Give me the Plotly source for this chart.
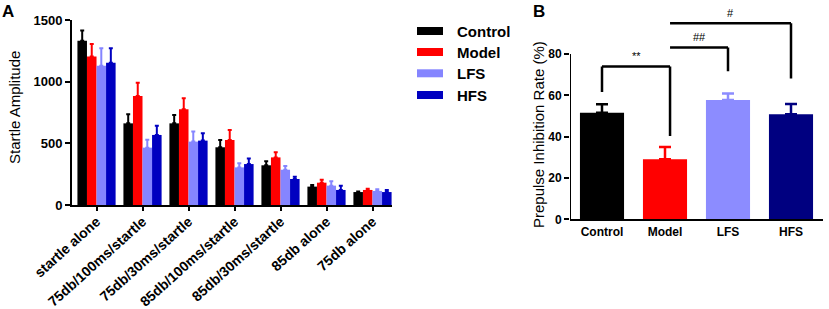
import plotly.graph_objects as go

# ---------------- data ----------------
categories = ["startle alone", "75db/100ms/startle", "75db/30ms/startle",
              "85db/100ms/startle", "85db/30ms/startle", "85db alone", "75db alone"]
series_names = ["Control", "Model", "LFS", "HFS"]
control = [1332, 662, 662, 468, 322, 149, 105]
control_err = [82, 73, 68, 59, 32, 13, 5]
model = [1205, 884, 776, 527, 386, 181, 122]
model_err = [100, 108, 89, 81, 41, 24, 10]
lfs = [1130, 465, 514, 305, 286, 157, 114]
lfs_err = [140, 65, 81, 33, 30, 35, 13]
hfs = [1154, 568, 522, 332, 211, 122, 105]
hfs_err = [116, 75, 59, 46, 19, 35, 17]

groups_b = ["Control", "Model", "LFS", "HFS"]
ppi = [51.6, 29.1, 57.7, 50.8]
ppi_err = [4.1, 5.9, 3.2, 5.0]

# significance brackets: (left x, right x, left leg bottom, right leg bottom, bar height, label)
brackets = [
    (0, 1.08, 61.6, 40.3, 73.9, "**"),
    (1.08, 2, 83.1, 71.6, 83.1, "##"),
    (1.08, 3, 94.9, 68.2, 94.9, "#"),
]

yticks_a = [0, 500, 1000, 1500]
yticks_b = [0, 20, 40, 60, 80]

colors_a = ["#000000", "#FF0000", "#8585FF", "#0000C0"]
colors_b = ["#000000", "#FF0000", "#8C8CFF", "#000080"]

FONT = "Liberation Sans, Arial, sans-serif"

fig = go.Figure()

vals = [control, model, lfs, hfs]
errs = [control_err, model_err, lfs_err, hfs_err]
for name, v, e, c in zip(series_names, vals, errs, colors_a):
    fig.add_trace(go.Bar(
        x=list(range(len(categories))), y=v, name=name, marker_color=c,
        marker_line_width=0, showlegend=False, offsetgroup=name,
        error_y=dict(type="data", symmetric=False, array=e,
                     arrayminus=[0] * len(e), color=c, thickness=2, width=2),
        xaxis="x", yaxis="y"))

for i, (g, v, e, c) in enumerate(zip(groups_b, ppi, ppi_err, colors_b)):
    fig.add_trace(go.Bar(
        x=[i], y=[v], marker_color=c, marker_line_width=0, showlegend=False, width=0.7,
        offsetgroup="B",
        error_y=dict(type="data", symmetric=False, array=[e], arrayminus=[0],
                     color=c, thickness=2.5, width=6),
        xaxis="x2", yaxis="y2"))

fig.update_layout(
    template="none",
    width=829, height=309,
    margin=dict(l=0, r=0, t=0, b=0, autoexpand=False),
    paper_bgcolor="white", plot_bgcolor="white",
    barmode="group", bargap=0.17, bargroupgap=0,
    font=dict(family=FONT, color="black"),
    hovermode=False,
    xaxis=dict(domain=[72 / 829, 392 / 829], range=[-0.533, 6.424], automargin=False,
               tickvals=list(range(len(categories))), ticktext=categories,
               tickangle=-42, tickfont=dict(size=14, family=FONT, weight="bold"),
               ticklabelstandoff=-3,
               showline=True, linewidth=2, linecolor="black",
               ticks="outside", ticklen=4, tickwidth=2, tickcolor="black",
               showgrid=False, zeroline=False, anchor="y"),
    yaxis=dict(domain=[1 - 205 / 309, 1 - 20 / 309], range=[0, 1500], automargin=False,
               tickvals=yticks_a, tickfont=dict(size=13, family=FONT, weight="bold"),
               showline=True, linewidth=2, linecolor="black",
               ticks="outside", ticklen=5, tickwidth=2, tickcolor="black",
               showgrid=False, zeroline=False, anchor="x"),
    xaxis2=dict(domain=[570 / 829, 823 / 829], range=[-0.508, 3.508], automargin=False,
                tickvals=list(range(len(groups_b))), ticktext=groups_b,
                tickfont=dict(size=12, family=FONT, weight="bold"),
                showline=True, linewidth=2, linecolor="black", ticks="",
                showgrid=False, zeroline=False, anchor="y2"),
    yaxis2=dict(domain=[1 - 219.3 / 309, 1 - 12.7 / 309], range=[0, 100], automargin=False,
                tickvals=yticks_b, tickfont=dict(size=12, family=FONT, weight="bold"),
                showline=False, ticks="outside", ticklen=5, tickwidth=2, tickcolor="black",
                showgrid=False, zeroline=False, anchor="x2"),
)

shapes = []
# y axis line of panel B (only up to 80)
shapes.append(dict(type="line", xref="x2", yref="y2", x0=-0.508, x1=-0.508,
                   y0=0, y1=max(yticks_b), line=dict(color="black", width=2)))
annotations = []
for (a, b, la, lb, top, lab) in brackets:
    shapes.append(dict(type="line", xref="x2", yref="y2", x0=a, x1=a, y0=la, y1=top,
                       line=dict(color="black", width=2.5)))
    shapes.append(dict(type="line", xref="x2", yref="y2", x0=b, x1=b, y0=lb, y1=top,
                       line=dict(color="black", width=2.5)))
    shapes.append(dict(type="line", xref="x2", yref="y2", x0=a, x1=b, y0=top, y1=top,
                       line=dict(color="black", width=2.5)))
    annotations.append(dict(xref="x2", yref="y2", x=(a + b) / 2, y=top + 1.2, text=lab,
                            showarrow=False, yanchor="bottom",
                            font=dict(size=11, family=FONT, color="black")))

# custom legend
leg_y = [31, 52, 73.3, 95]
for name, c, yy in zip(series_names, colors_a, leg_y):
    shapes.append(dict(type="rect", xref="paper", yref="paper",
                       x0=417 / 829, x1=443 / 829,
                       y0=1 - (yy + 4) / 309, y1=1 - (yy - 4) / 309,
                       fillcolor=c, line=dict(width=0)))
    annotations.append(dict(xref="paper", yref="paper", x=455 / 829, y=1 - yy / 309,
                            text="<b>%s</b>" % name, showarrow=False,
                            xanchor="left", yanchor="middle",
                            font=dict(size=15, family=FONT, color="black")))

# axis titles
annotations.append(dict(xref="paper", yref="paper", x=14 / 829, y=1 - 108 / 309,
                        text="Startle Amplitude", textangle=-90, showarrow=False,
                        xanchor="center", yanchor="middle",
                        font=dict(size=15, family=FONT, color="black")))
annotations.append(dict(xref="paper", yref="paper", x=538 / 829, y=1 - 135 / 309,
                        text="Prepulse Inhibition Rate (%)", textangle=-90, showarrow=False,
                        xanchor="center", yanchor="middle",
                        font=dict(size=15, family=FONT, color="black")))
# panel letters
annotations.append(dict(xref="paper", yref="paper", x=8 / 829, y=1 - 12 / 309,
                        text="<b>A</b>", showarrow=False, xanchor="center", yanchor="middle",
                        font=dict(size=17, family=FONT, color="black")))
annotations.append(dict(xref="paper", yref="paper", x=539 / 829, y=1 - 11 / 309,
                        text="<b>B</b>", showarrow=False, xanchor="center", yanchor="middle",
                        font=dict(size=17, family=FONT, color="black")))

fig.update_layout(shapes=shapes, annotations=annotations)
fig.write_html("out.html", config={"displayModeBar": False, "staticPlot": True},
               post_script="document.body.style.margin='0px';document.body.style.overflow='hidden';")
